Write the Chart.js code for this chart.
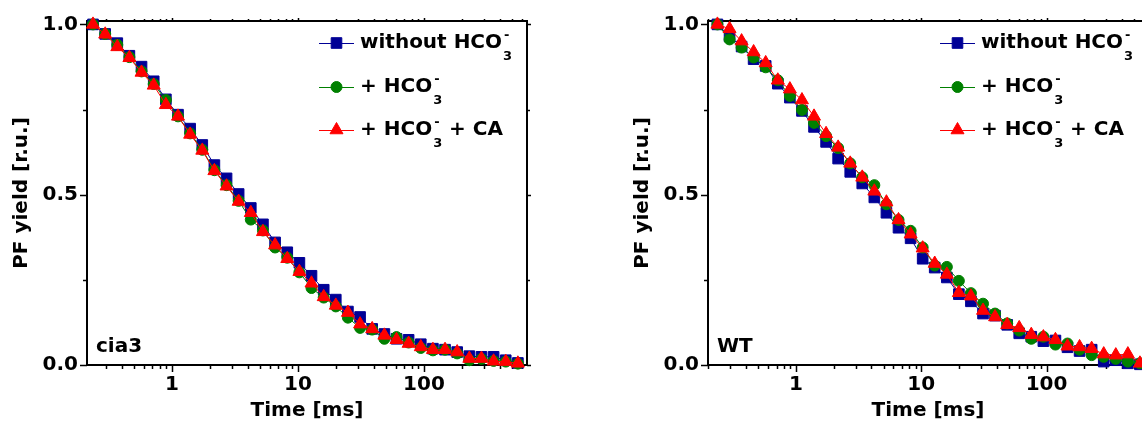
<!DOCTYPE html>
<html>
<head>
<meta charset="utf-8">
<script src="https://cdn.jsdelivr.net/npm/chart.js@4/dist/chart.umd.min.js"></script>
<style>
  html, body { margin: 0; padding: 0; background: #fff; overflow: hidden; width: 1142px; height: 429px; }
  .panel { position: absolute; top: 0; }
</style>
</head>
<body>
<div class="panel" style="left:0px"><canvas id="chartA" width="571" height="429"></canvas></div>
<div class="panel" style="left:571px"><canvas id="chartB" width="600" height="429"></canvas></div>
<script>
// time points [ms]
const times = [0.236, 0.295, 0.368, 0.459, 0.573, 0.716, 0.894, 1.116, 1.393, 1.739,
  2.17, 2.71, 3.38, 4.22, 5.27, 6.58, 8.22, 10.26, 12.8, 16.0,
  19.95, 24.9, 31.1, 38.8, 48.5, 60.5, 75.5, 94.3, 117.7, 146.9,
  183.4, 229.0, 285.9, 356.9, 445.5, 556.2];

const seriesNames = ['without HCO₃⁻', '+ HCO₃⁻', '+ HCO₃⁻ + CA'];
const panelNames = ['cia3', 'WT'];

// cia3 panel
const cia3Without = [1.0, 0.972, 0.945, 0.908, 0.876, 0.833, 0.780, 0.735, 0.694, 0.646,
  0.587, 0.548, 0.502, 0.461, 0.413, 0.360, 0.331, 0.300, 0.262, 0.221,
  0.192, 0.157, 0.141, 0.106, 0.091, 0.077, 0.074, 0.061, 0.048, 0.045,
  0.038, 0.026, 0.024, 0.024, 0.014, 0.006];
const cia3Hco3 = [1.0, 0.972, 0.940, 0.904, 0.862, 0.825, 0.778, 0.730, 0.680, 0.632,
  0.572, 0.528, 0.482, 0.427, 0.395, 0.345, 0.315, 0.272, 0.226, 0.198,
  0.172, 0.139, 0.109, 0.104, 0.077, 0.082, 0.066, 0.050, 0.043, 0.045,
  0.034, 0.014, 0.018, 0.012, 0.010, 0.004];
const cia3Ca = [1.0, 0.971, 0.934, 0.902, 0.859, 0.821, 0.764, 0.730, 0.677, 0.630,
  0.570, 0.525, 0.480, 0.447, 0.391, 0.352, 0.312, 0.274, 0.240, 0.200,
  0.175, 0.154, 0.120, 0.106, 0.087, 0.074, 0.063, 0.053, 0.045, 0.045,
  0.038, 0.019, 0.019, 0.011, 0.010, 0.005];

// WT panel
const wtWithout = [1.0, 0.965, 0.935, 0.898, 0.878, 0.826, 0.785, 0.746, 0.699, 0.655,
  0.606, 0.567, 0.533, 0.492, 0.447, 0.403, 0.372, 0.312, 0.286, 0.257,
  0.208, 0.187, 0.151, 0.145, 0.118, 0.093, 0.083, 0.070, 0.072, 0.052,
  0.041, 0.045, 0.010, 0.014, 0.005, 0.002];
const wtHco3 = [1.0, 0.956, 0.932, 0.903, 0.874, 0.836, 0.790, 0.749, 0.711, 0.672,
  0.637, 0.592, 0.551, 0.528, 0.472, 0.426, 0.394, 0.345, 0.292, 0.288,
  0.247, 0.211, 0.180, 0.151, 0.122, 0.101, 0.077, 0.083, 0.060, 0.063,
  0.045, 0.029, 0.024, 0.018, 0.010, 0.005];
const wtCa = [1.0, 0.987, 0.951, 0.919, 0.887, 0.836, 0.810, 0.778, 0.730, 0.679,
  0.639, 0.592, 0.551, 0.510, 0.478, 0.426, 0.384, 0.343, 0.298, 0.266,
  0.212, 0.202, 0.160, 0.141, 0.118, 0.109, 0.089, 0.082, 0.074, 0.055,
  0.053, 0.048, 0.032, 0.029, 0.032, 0.005];

const xTickLabels = [1, 10, 100];
const yTickLabels = [0.0, 0.5, 1.0];
const yMinorStep = 0.25;

const FONT = '"DejaVu Sans", sans-serif';
const colors = ['#000096', '#008000', '#ff0000'];
const styles = [
  { pointStyle: 'rect', radius: 7.5 },
  { pointStyle: 'circle', radius: 5.5 },
  { pointStyle: 'triangle', radius: 7.5 }
];

function toPoints(vals) {
  return vals.map((v, i) => ({ x: times[i], y: v }));
}

// frame box + tick marks, drawn from the chart's own scales
const framePlugin = {
  id: 'frame',
  beforeDatasetsDraw(chart) {
    const { ctx, chartArea: a, scales: { x, y } } = chart;
    ctx.save();
    ctx.strokeStyle = '#000';
    ctx.lineWidth = 2;
    ctx.strokeRect(a.left, a.top, a.right - a.left, a.bottom - a.top);
    ctx.lineWidth = 1.5;
    ctx.beginPath();
    for (let d = 0.1; d < 1000; d *= 10) {
      for (let m = 1; m < 10; m++) {
        const v = d * m;
        if (v < x.min || v > x.max) continue;
        const px = Math.round(x.getPixelForValue(v)) + 0.5;
        ctx.moveTo(px, a.bottom); ctx.lineTo(px, a.bottom + (m === 1 ? 7 : 4));
        ctx.moveTo(px, a.top); ctx.lineTo(px, a.top - (m === 1 ? 3 : 2));
      }
    }
    for (let v = 0; v <= 1.0001; v += yMinorStep) {
      const major = yTickLabels.some(t => Math.abs(t - v) < 1e-6);
      const py = Math.round(y.getPixelForValue(v)) + 0.5;
      ctx.moveTo(a.left, py); ctx.lineTo(a.left - (major ? 7 : 4), py);
      ctx.moveTo(a.right, py); ctx.lineTo(a.right + (major ? 4 : 3), py);
    }
    ctx.stroke();
    ctx.restore();
  },
  afterDatasetsDraw(chart, args, opts) {
    const { ctx, chartArea: a } = chart;
    ctx.save();
    // panel name
    ctx.fillStyle = '#000';
    ctx.font = 'bold 20px ' + FONT;
    ctx.textBaseline = 'alphabetic';
    ctx.fillText(opts.panel, a.left + 9, a.bottom - 13);
    // legend
    const rows = [22, 66, 109];
    chart.data.datasets.forEach((ds, i) => {
      const ry = a.top + rows[i];
      const lx = a.left + 232;
      ctx.strokeStyle = ds.borderColor;
      ctx.fillStyle = ds.backgroundColor;
      ctx.lineWidth = 1;
      ctx.beginPath();
      ctx.moveTo(lx, ry + 0.5); ctx.lineTo(lx + 35, ry + 0.5);
      ctx.stroke();
      Chart.helpers.drawPoint(ctx, { pointStyle: ds.pointStyle, radius: ds.pointRadius, rotation: 0, borderWidth: 1 }, lx + 17.5, ry);
      const parts = ds.label.split('₃⁻');
      const base = ry + 5;
      let tx = a.left + 273;
      ctx.fillStyle = '#000';
      ctx.font = 'bold 20px ' + FONT;
      ctx.fillText(parts[0], tx, base);
      tx += ctx.measureText(parts[0]).width;
      ctx.font = 'bold 13px ' + FONT;
      ctx.fillText('3', tx + 1, base + 12);
      ctx.fillText('-', tx + 2, base - 9);
      tx += 10;
      if (parts[1]) {
        ctx.font = 'bold 20px ' + FONT;
        ctx.fillText(parts[1], tx, base);
      }
    });
    ctx.restore();
  }
};

function makeChart(id, panel, seriesVals, xMin, xMax, padLeft, padRight) {
  return new Chart(document.getElementById(id), {
    type: 'line',
    data: {
      datasets: seriesVals.map((vals, i) => ({
        label: seriesNames[i],
        data: toPoints(vals),
        borderColor: colors[i],
        backgroundColor: colors[i],
        borderWidth: 1,
        pointStyle: styles[i].pointStyle,
        pointRadius: styles[i].radius,
        pointBorderWidth: 1,
        pointHoverRadius: styles[i].radius,
        tension: 0,
        clip: false,
        order: 3 - i
      }))
    },
    options: {
      responsive: false,
      animation: false,
      events: [],
      layout: { padding: { left: padLeft, right: padRight, top: 15, bottom: 0 } },
      plugins: {
        legend: { display: false },
        tooltip: { enabled: false },
        frame: { panel: panel }
      },
      scales: {
        x: {
          type: 'logarithmic',
          min: xMin,
          max: xMax,
          grid: { display: false, drawTicks: false },
          border: { display: false },
          afterBuildTicks: s => { s.ticks = xTickLabels.map(v => ({ value: v })); },
          afterFit: s => { s.height = 64; },
          ticks: {
            autoSkip: false,
            maxRotation: 0,
            padding: 8,
            color: '#000',
            font: { family: FONT, size: 20, weight: 'bold' },
            callback: v => String(v)
          },
          title: {
            display: true,
            text: 'Time [ms]',
            color: '#000',
            padding: { top: 0, bottom: 6 },
            font: { family: FONT, size: 20, weight: 'bold' }
          }
        },
        y: {
          min: 0,
          max: 1.01,
          grid: { display: false, drawTicks: false },
          border: { display: false },
          afterBuildTicks: s => { s.ticks = yTickLabels.map(v => ({ value: v })); },
          afterFit: s => { s.width = 87; },
          ticks: {
            padding: 9,
            color: '#000',
            font: { family: FONT, size: 20, weight: 'bold' },
            callback: v => v.toFixed(1)
          },
          title: {
            display: true,
            text: 'PF yield [r.u.]',
            color: '#000',
            padding: { top: 10, bottom: 0 },
            font: { family: FONT, size: 20, weight: 'bold' }
          }
        }
      }
    },
    plugins: [framePlugin]
  });
}

makeChart('chartA', panelNames[0], [cia3Without, cia3Hco3, cia3Ca], 0.2115, 657, 0, 44);
makeChart('chartB', panelNames[1], [wtWithout, wtHco3, wtCa], 0.1985, 645, 50, 23);
</script>
</body>
</html>
